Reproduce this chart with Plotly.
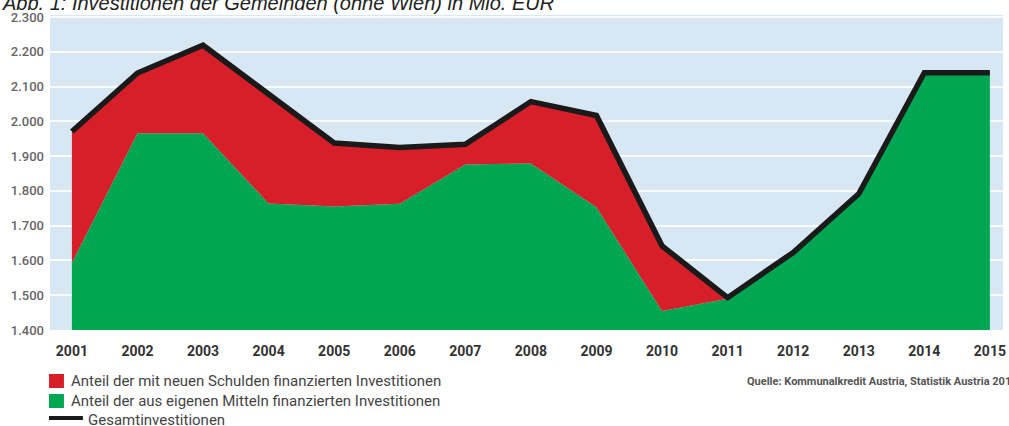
import plotly.graph_objects as go

years = list(range(2001, 2016))
gesamt = [1971, 2139, 2219, 2080, 1938, 1925, 1934, 2057, 2017, 1642, 1493, 1623, 1792, 2140, 2140]
eigen = [1593, 1966, 1966, 1764, 1755, 1763, 1876, 1879, 1753, 1455, 1490, 1623, 1792, 2138, 2138]

y_ticks = [1400, 1500, 1600, 1700, 1800, 1900, 2000, 2100, 2200, 2300]
y_ticktext = ["1.400", "1.500", "1.600", "1.700", "1.800", "1.900", "2.000", "2.100", "2.200", "2.300"]
x_ticktext = [str(y) for y in years]

legend_labels = [
    "Anteil der mit neuen Schulden finanzierten Investitionen",
    "Anteil der aus eigenen Mitteln finanzierten Investitionen",
    "Gesamtinvestitionen",
]
title_text = "Abb. 1: Investitionen der Gemeinden (ohne Wien) in Mio. EUR"
source_text = "Quelle: Kommunalkredit Austria, Statistik Austria 2016"

GREEN = "#00a651"
RED = "#d71f2a"
BLACK = "#1a1a1a"
BG = "#d8e7f4"

fig = go.Figure()
fig.add_trace(go.Scatter(x=years, y=eigen, mode="lines", line=dict(width=0, color=GREEN),
                         fill="tozeroy", fillcolor=GREEN, showlegend=False, hoverinfo="skip"))
fig.add_trace(go.Scatter(x=years, y=gesamt, mode="lines", line=dict(width=0, color=RED),
                         fill="tonexty", fillcolor=RED, showlegend=False, hoverinfo="skip"))
fig.add_trace(go.Scatter(x=years, y=gesamt, mode="lines", line=dict(width=5.5, color=BLACK),
                         showlegend=False))

W, H = 1009, 426
ml, mr, mt, mb = 50, 3, 15, 96
pw, ph = W - ml - mr, H - mt - mb

def px_x(x):
    return (x - ml) / pw

def px_y(y):
    return (H - mb - y) / ph

ann = []
ann.append(dict(text=title_text, x=px_x(0), y=px_y(16.5), xref="paper", yref="paper",
                xanchor="left", yanchor="bottom", showarrow=False,
                font=dict(family="Liberation Sans, Arial", size=20, color="#222", style="italic")))
ann.append(dict(text=source_text, x=px_x(747), y=px_y(381), xref="paper", yref="paper",
                xanchor="left", yanchor="middle", showarrow=False,
                font=dict(family="Roboto", size=11, color="#555", weight="bold")))
leg_y = [381, 401, 420]
for i, lab in enumerate(legend_labels):
    ann.append(dict(text=lab, x=px_x(69 if i < 2 else 86), y=px_y(leg_y[i]), xref="paper", yref="paper",
                    xanchor="left", yanchor="middle", showarrow=False,
                    font=dict(family="Roboto", size=15, color="#444")))

shapes = [
    dict(type="rect", xref="paper", yref="paper", x0=px_x(49), x1=px_x(64), y0=px_y(374), y1=px_y(388),
         fillcolor=RED, line=dict(width=0)),
    dict(type="rect", xref="paper", yref="paper", x0=px_x(49), x1=px_x(64), y0=px_y(394), y1=px_y(408),
         fillcolor=GREEN, line=dict(width=0)),
    dict(type="line", xref="paper", yref="paper", x0=px_x(49), x1=px_x(83), y0=px_y(418), y1=px_y(418),
         line=dict(width=4, color=BLACK)),
]

fig.update_layout(
    width=W, height=H,
    margin=dict(l=ml, r=mr, t=mt, b=mb, pad=0),
    paper_bgcolor="white", plot_bgcolor=BG,
    annotations=ann, shapes=shapes,
    showlegend=False,
    xaxis=dict(range=[2000.666, 2015.2], tickmode="array", tickvals=years, ticktext=x_ticktext,
               showgrid=False, zeroline=False, showline=False, ticks="",
               tickfont=dict(family="Roboto", size=14, color="#333", weight="bold"),
               ticklabelstandoff=11, fixedrange=True),
    yaxis=dict(range=[1400, 2306], tickmode="array", tickvals=y_ticks, ticktext=y_ticktext,
               showgrid=True, gridcolor="rgba(255,255,255,0.85)", gridwidth=2,
               zeroline=False, showline=False, ticks="",
               tickfont=dict(family="Roboto", size=13, color="#666", weight=500),
               ticklabelstandoff=5, fixedrange=True),
)

fig.write_html("out.html", config={"displayModeBar": False},
               post_script="document.body.style.margin='0';document.body.style.overflow='hidden';")
